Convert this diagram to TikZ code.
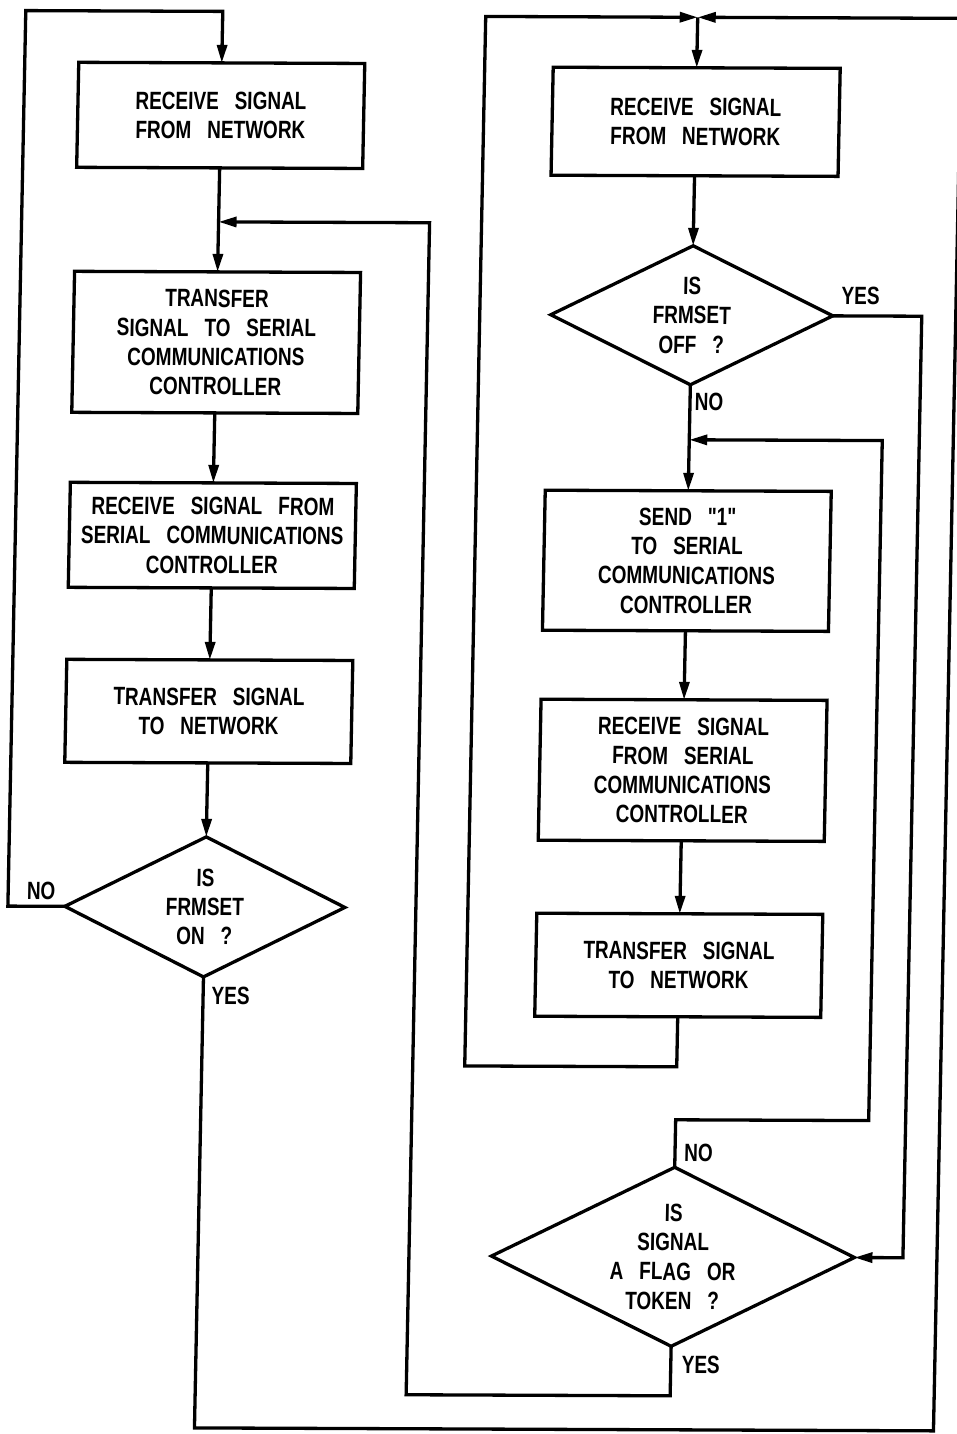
\documentclass[tikz,border=0pt]{standalone}
\usepackage{fontspec}
\setmainfont{Liberation Sans}[FakeStretch=0.76, WordSpace=3]
\newfontfamily\quotefont{Liberation Sans}[FakeStretch=0.76]
\usetikzlibrary{arrows.meta,shapes.geometric}
\begin{document}
\begin{tikzpicture}[x=1pt,y=-1pt,
  every node/.style={font=\fontsize{25}{29.3}\selectfont\bfseries, align=center, inner sep=0pt, outer sep=0pt},
  box/.style={draw, line width=3.3pt, rectangle, minimum width=286pt},
  dec/.style={draw, line width=3.3pt, diamond, aspect=2},
  wire/.style={line width=3.3pt},
  flow/.style={wire, -{Triangle[length=18pt,width=10pt]}}]
\useasboundingbox (0,0) rectangle (957,1434);
\fill[white] (0,0) rectangle (957,1434);
\begin{scope}[transform canvas={cm={1,-0.004,0.02,1,(0,0)}}]
% left column
\node[box, minimum height=105pt] (L1) at (223,114.5) {RECEIVE SIGNAL\\FROM NETWORK};
\node[box, minimum height=141pt] (L2) at (223,341.5) {TRANSFER\\SIGNAL TO SERIAL\\COMMUNICATIONS\\CONTROLLER};
\node[box, minimum height=105pt] (L3) at (223,534.5) {RECEIVE SIGNAL FROM\\SERIAL COMMUNICATIONS\\CONTROLLER};
\node[box, minimum height=103pt] (L4) at (223,710.5) {TRANSFER SIGNAL\\TO NETWORK};
\node[dec, minimum width=280pt, minimum height=140pt] (LD) at (223,906) {IS\\FRMSET\\ON ?};
% right column
\node[box, minimum width=287pt, minimum height=108pt] (R1) at (698,119) {RECEIVE SIGNAL\\FROM NETWORK};
\node[dec, minimum width=282pt, minimum height=139pt] (RD1) at (698,312.5) {IS\\FRMSET\\OFF ?};
\node[box, minimum height=140pt] (R2) at (698,558) {SEND {\quotefont"}1{\quotefont"}\\TO SERIAL\\COMMUNICATIONS\\CONTROLLER};
\node[box, minimum height=141pt] (R3) at (698,767.5) {RECEIVE SIGNAL\\FROM SERIAL\\COMMUNICATIONS\\CONTROLLER};
\node[box, minimum height=103pt] (R4) at (698,962.5) {TRANSFER SIGNAL\\TO NETWORK};
\node[dec, minimum width=363pt, minimum height=179pt] (RD2) at (698,1254) {IS\\SIGNAL\\A FLAG OR\\TOKEN ?};
% junctions and corners
\coordinate (lj) at (223,221);
\coordinate (rj) at (698,14.5);
\coordinate (rj2) at (698,437);
\coordinate (ltop) at (26,10.5);
\coordinate (ob) at (962,1427);
\coordinate (r4b) at (486,1064);
\coordinate (yx) at (928,700);
\coordinate (nt) at (891,1117);
\coordinate (yb) at (434,1393);
% connectors
\draw[flow] (L1.south) -- (L2.north);
\draw[flow] (L2.south) -- (L3.north);
\draw[flow] (L3.south) -- (L4.north);
\draw[flow] (L4.south) -- (LD.north);
\draw[flow] (LD.west) -| (ltop) -| (L1.north);
\draw[flow] (LD.south) |- (ob) |- (rj);
\draw[flow] (rj) -- (R1.north);
\draw[flow] (R1.south) -- (RD1.north);
\draw[flow] (RD1.south) -- (R2.north);
\draw[flow] (R2.south) -- (R3.north);
\draw[flow] (R3.south) -- (R4.north);
\draw[flow] (R4.south) |- (r4b) |- (rj);
\draw[flow] (RD1.east) -| (yx) |- (RD2.east);
\draw[flow] (RD2.north) |- (nt) |- (rj2);
\draw[flow] (RD2.south) |- (yb) |- (lj);
% labels
\node (tLno) at (59,891) {NO};
\node (tLyes) at (250.5,995) {YES};
\node (tR1yes) at (866.5,292.5) {YES};
\node (tR1no) at (717,399) {NO};
\node (tR2no) at (721.5,1150) {NO};
\node (tR2yes) at (728,1362) {YES};
\end{scope}
\end{tikzpicture}
\end{document}
